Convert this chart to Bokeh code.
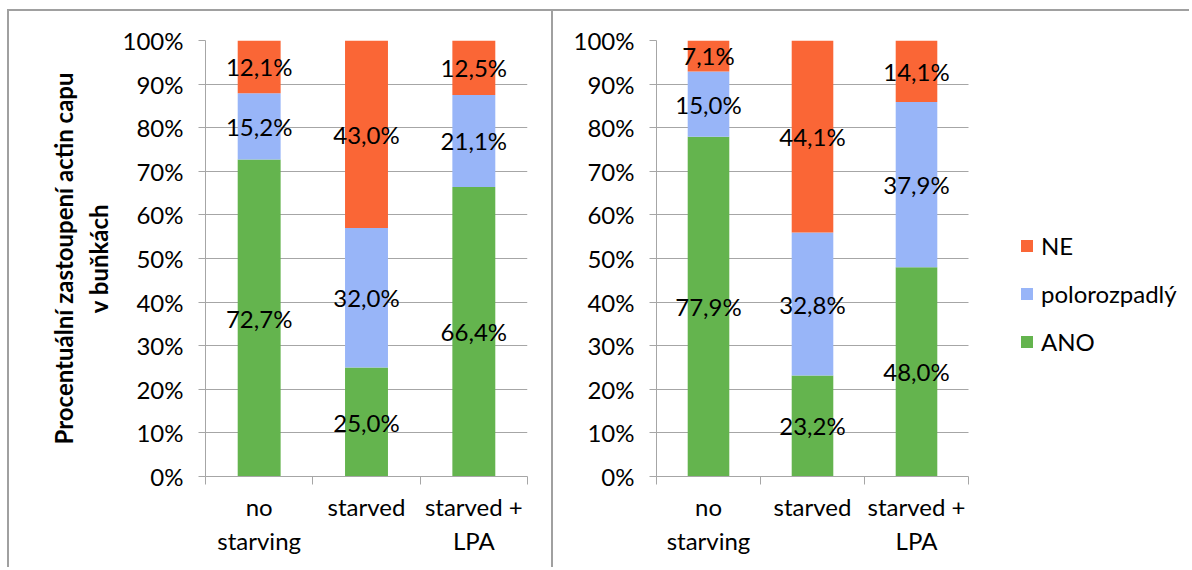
from bokeh.plotting import figure
from bokeh.layouts import row, column, Spacer
from bokeh.models import (Range1d, FixedTicker, LinearAxis,
                          ColumnDataSource, Legend, LegendItem, Grid)
from bokeh.core.properties import value
from bokeh.embed import file_html
from bokeh.resources import INLINE
import numpy as np

categories = ["no\nstarving", "starved", "starved +\nLPA"]
series = ["ANO", "polorozpadlý", "NE"]
colors = ["#64B44E", "#98B5F8", "#FA6636"]

left_ano = [72.7, 25.0, 66.4]
left_polo = [15.2, 32.0, 21.1]
left_ne = [12.1, 43.0, 12.5]

right_ano = [77.9, 23.2, 48.0]
right_polo = [15.0, 32.8, 37.9]
right_ne = [7.1, 44.1, 14.1]

y_ticks = [0.0, 0.1, 0.2, 0.3, 0.4, 0.5, 0.6, 0.7, 0.8, 0.9, 1.0]
y_tick_labels = ["0%", "10%", "20%", "30%", "40%", "50%", "60%", "70%", "80%", "90%", "100%"]
y_title = "Procentuální zastoupení actin capu\nv buňkách"

FONT = "Lato"
FS = "24px"
GRID = "#A6A6A6"
BORDER = "2px solid #A0A0A0"


def fmt(v):
    return ("%.1f" % v).replace(".", ",") + "%"


def make_panel(ano, polo, ne, width, frame_left, frame_w, plot_w, styles, ylabel=None, legend=False):
    # plot_w: pixel width of the part of the frame that holds the bars
    height = 558
    top = 29
    frame_h = 436
    n = len(categories)
    xc = np.arange(n) + 0.5
    x_end = n * frame_w / plot_w
    p = figure(width=width, height=height, x_range=Range1d(0, x_end),
               y_range=Range1d(0, 1), x_axis_type=None, y_axis_type=None,
               output_backend="svg", toolbar_location=None,
               min_border_left=frame_left, min_border_right=width - frame_left - frame_w,
               min_border_top=top, min_border_bottom=height - top - frame_h,
               outline_line_color=None, background_fill_color="white", border_fill_color="white")
    p.styles = styles

    vals = np.array([ano, polo, ne], dtype=float)
    tot = vals.sum(axis=0)
    frac = vals / tot
    data = {"x": xc}
    for i, s in enumerate(series):
        data[s] = frac[i]
    src = ColumnDataSource(data)
    rs = p.vbar_stack(series, x="x", width=0.4, color=colors, line_color=None, source=src)

    # labels
    base = np.zeros(n)
    lx, ly, lt = [], [], []
    for i in range(3):
        for j in range(n):
            lx.append(xc[j])
            ly.append(base[j] + frac[i][j] / 2)
            lt.append(fmt(vals[i][j]))
        base = base + frac[i]
    lsrc = ColumnDataSource(dict(x=lx, y=ly, t=lt))
    p.text(x="x", y="y", text="t", source=lsrc, text_align="center", text_baseline="middle",
           text_font=value(FONT), text_font_size=FS, text_color="black")

    # y axis
    yax = LinearAxis(ticker=FixedTicker(ticks=y_ticks),
                     major_label_overrides={t: l for t, l in zip(y_ticks, y_tick_labels)})
    yax.axis_line_color = GRID
    yax.major_tick_line_color = GRID
    yax.major_tick_out = 7
    yax.major_tick_in = 0
    yax.minor_tick_line_color = None
    yax.major_label_standoff = 15
    yax.major_label_text_font = FONT
    yax.major_label_text_font_size = FS
    yax.major_label_text_color = "black"
    if ylabel:
        yax.axis_label = ylabel
        yax.axis_label_text_font = FONT
        yax.axis_label_text_font_size = "24px"
        yax.axis_label_text_font_style = "bold"
        yax.axis_label_text_color = "black"
        yax.axis_label_standoff = 7
    p.add_layout(yax, "left")
    p.add_layout(Grid(dimension=1, ticker=yax.ticker, grid_line_color=GRID, cross_bounds=(0, n)))

    # boundary ticks axis
    bax = LinearAxis(ticker=FixedTicker(ticks=list(range(n + 1))), bounds=(0, n))
    bax.axis_line_color = GRID
    bax.major_tick_line_color = GRID
    bax.major_tick_out = 8
    bax.major_tick_in = 0
    bax.minor_tick_line_color = None
    bax.major_label_text_font_size = "0px"
    bax.major_label_text_color = None
    bax.major_label_standoff = 0
    p.add_layout(bax, "below")

    cax = LinearAxis(ticker=FixedTicker(ticks=list(xc)),
                     major_label_overrides={float(c): lab for c, lab in zip(xc, categories)})
    cax.axis_line_color = None
    cax.major_tick_line_color = None
    cax.minor_tick_line_color = None
    cax.major_label_standoff = 1
    cax.major_label_text_font = FONT
    cax.major_label_text_font_size = FS
    cax.major_label_text_color = "black"
    p.add_layout(cax, "below")

    if legend:
        order = [2, 1, 0]
        items = [LegendItem(label=series[i], renderers=[rs[i]]) for i in order]
        lg = Legend(items=items, location=(363, 120), orientation="vertical")
        lg.label_text_font = FONT
        lg.label_text_font_size = FS
        lg.label_text_color = "black"
        lg.glyph_width = 15
        lg.glyph_height = 15
        lg.label_height = 15
        lg.spacing = 19
        lg.padding = 0
        lg.margin = 0
        lg.label_standoff = 7
        lg.border_line_color = None
        lg.background_fill_alpha = 0
        p.add_layout(lg, "center")
    return p


left = make_panel(left_ano, left_polo, left_ne, 546, 196, 322, 322,
                  {"border-top": BORDER, "border-left": BORDER, "border-right": BORDER},
                  ylabel=y_title)
right = make_panel(right_ano, right_polo, right_ne, 636, 103, 533, 312,
                   {"border-top": BORDER}, legend=True)

layout = column(Spacer(height=9), row(Spacer(width=7), left, right))
open("out.html", "w").write(file_html(layout, INLINE))
